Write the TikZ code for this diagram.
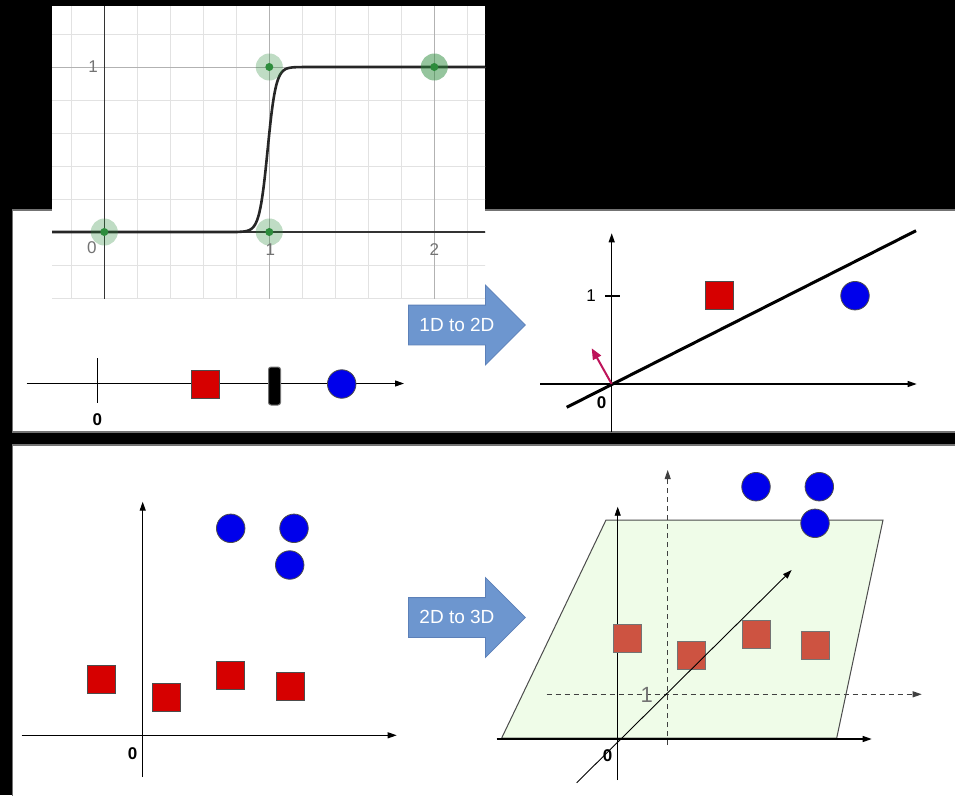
\documentclass[tikz,border=0pt]{standalone}
\usepackage{fontspec}
\setmainfont{Liberation Sans}
\usetikzlibrary{shapes.arrows, arrows.meta, positioning}

\definecolor{sqred}{RGB}{214,0,0}
\definecolor{dotblue}{RGB}{0,0,235}
\definecolor{planegreen}{RGB}{239,252,232}
\definecolor{sqredsoft}{RGB}{205,83,65}
\definecolor{arrowblue}{RGB}{109,150,207}
\definecolor{arrowedge}{RGB}{92,128,184}
\definecolor{normalpink}{RGB}{190,20,90}
\definecolor{gridgray}{RGB}{226,226,226}
\definecolor{gridmajor}{RGB}{178,178,178}
\definecolor{desmosgreen}{RGB}{45,140,60}

\begin{document}
\begin{tikzpicture}[
    x=1pt, y=-1pt,
    % Estilos
    panel/.style={fill=white, draw=black!55, line width=1.5pt},
    axis/.style={-{Triangle[length=9pt,width=6pt]}, line width=1.1pt},
    plain/.style={line width=1.1pt},
    dashaxis/.style={axis, dash pattern=on 5pt off 4pt, draw=black!75},
    redsq/.style={rectangle, draw=black!70, fill=sqred, minimum size=28pt, inner sep=0pt, line width=0.8pt},
    softsq/.style={redsq, fill=sqredsoft, draw=black!55},
    bluedot/.style={circle, draw=black!70, fill=dotblue, minimum size=28.5pt, inner sep=0pt, line width=0.8pt},
    divider/.style={rectangle, rounded corners=2.5pt, fill=black, draw=black!55, line width=1pt, minimum width=12pt, minimum height=38pt, inner sep=0pt},
    lbl/.style={font=\bfseries\fontsize{17}{20}\selectfont, inner sep=0pt},
    numlbl/.style={font=\fontsize{17}{20}\selectfont, inner sep=0pt},
    plotlbl/.style={text=black!55, font=\fontsize{17}{19}\selectfont, inner sep=0pt},
    blockarrow/.style={single arrow, draw=arrowedge, fill=arrowblue, text=white,
        font=\fontsize{19}{22}\selectfont, minimum height=117pt,
        single arrow head extend=20pt, text height=13pt, text depth=1pt,
        inner ysep=12.5pt, inner xsep=4pt, line width=0.8pt},
    sepline/.style={line width=3pt},
    normalarrow/.style={-{Triangle[length=11pt,width=9pt]}, line width=2pt, draw=normalpink}
  ]

  % Fondo y paneles
  \useasboundingbox (0,0) rectangle (955,795);
  \fill[black] (0,0) rectangle (955,795);
  \draw[panel] (12.7,210) rectangle (958,432);
  \draw[panel] (12.7,445) rectangle (958,800);

  % Grafica del escalon
  \begin{scope}
    \clip (52,6) rectangle (485,298);
    \fill[white] (52,6) rectangle (485,298);
    \begin{scope}[shift={(104.3,232)}, x=165pt, y=165pt]
      \draw[gridgray, line width=0.9pt, step=0.2] (-0.6,-0.6) grid (2.6,1.6);
      \draw[gridmajor, line width=1pt, step=1] (-1,-1) grid (3,2);
      \draw[black!80, line width=1.6pt] (-0.5,0) -- (2.5,0) (0,-0.6) -- (0,1.6);
      \draw[black!85, line width=2.6pt] (-0.5,0) -- (0.8,0) -- plot[domain=0.8:1.2, samples=80] (\x,{1/(1+exp(-40*(\x-0.99)))}) -- (1.2,1) -- (2.5,1);
      \foreach \px/\py/\op in {0/0/0.3, 1/0/0.3, 1/1/0.3, 2/1/0.5} {
        \fill[desmosgreen, opacity=\op] (\px,\py) circle[radius=13.5pt];
        \fill[desmosgreen] (\px,\py) circle[radius=4pt];
      }
      \node[plotlbl] (px0) at (-0.075,-0.097) {0};
      \node[plotlbl] (px1) at (1.006,-0.109) {1};
      \node[plotlbl] (px2) at (2.0,-0.109) {2};
      \node[plotlbl] (py1) at (-0.068,1.0) {1};
    \end{scope}
  \end{scope}

  % Recta 1D
  \coordinate (a1s) at (26.7,383.5);
  \coordinate (a1e) at (404,383.5);
  \coordinate (t1a) at (97.7,358);
  \coordinate (t1b) at (97.7,403);
  \draw[axis] (a1s) -- (a1e);
  \draw[plain] (t1a) -- (t1b);
  \node[lbl] (z1) at (97.3,420) {0};
  \node[redsq] (sq1) at (205.8,384.3) {};
  \node[divider] (sep1) at (274.5,386) {};
  \node[bluedot] (c1) at (341.7,384) {};

  % Flechas de bloque
  \node[blockarrow, anchor=tail] (up) at (408,325) {1D to 2D};
  \node[blockarrow, anchor=tail] (down) at (408,617.5) {2D to 3D};

  % Plano 2D
  \coordinate (x2s) at (540,384);
  \coordinate (x2e) at (916.7,384);
  \coordinate (y2s) at (611.7,431.7);
  \coordinate (y2e) at (611.7,233.3);
  \coordinate (o2) at (611.7,384);
  \coordinate (t2a) at (605,296);
  \coordinate (t2b) at (620,296);
  \coordinate (s2a) at (566.7,407.3);
  \coordinate (s2b) at (916,230.7);
  \coordinate (n2) at (591.7,348.3);
  \draw[axis] (x2s) -- (x2e);
  \draw[axis] (y2s) -- (y2e);
  \draw[plain] (t2a) -- (t2b);
  \node[numlbl] (one2) at (591,296) {1};
  \node[lbl] (z2) at (601.7,402.7) {0};
  \draw[sepline] (s2a) -- (s2b);
  \draw[normalarrow] (o2) -- (n2);
  \node[redsq] (sq2) at (719,295.7) {};
  \node[bluedot] (c2) at (855,295.7) {};

  % Plano 2D inferior
  \coordinate (x3s) at (21.7,735.3);
  \coordinate (x3e) at (396.7,735.3);
  \coordinate (y3s) at (142.7,777);
  \coordinate (y3e) at (142.7,501.7);
  \draw[axis] (x3s) -- (x3e);
  \draw[axis] (y3s) -- (y3e);
  \node[lbl] (z3) at (132.7,754) {0};
  \node[bluedot] (c3a) at (230.7,528.3) {};
  \node[bluedot] (c3b) at (294,528.3) {};
  \node[bluedot] (c3c) at (289.7,565) {};
  \node[redsq] (sq3a) at (101.7,679.7) {};
  \node[redsq] (sq3b) at (166.3,697) {};
  \node[redsq] (sq3c) at (230.7,675.7) {};
  \node[redsq] (sq3d) at (290,686.7) {};

  % Espacio 3D
  \filldraw[fill=planegreen, draw=black!70, line width=1pt]
    (501.7,738) -- (836.7,738) -- (883,520) -- (606,520) -- cycle;
  \coordinate (x4s) at (496.7,739);
  \coordinate (x4e) at (871.7,739);
  \coordinate (y4s) at (617.7,780);
  \coordinate (y4e) at (617.7,506.7);
  \coordinate (d4s) at (576.7,782.7);
  \coordinate (d4e) at (791.7,570);
  \coordinate (v4s) at (667.7,745);
  \coordinate (v4e) at (667.7,470);
  \coordinate (h4s) at (546.7,694.3);
  \coordinate (h4e) at (921.7,694.3);
  \draw[axis] (x4s) -- (x4e);
  \draw[axis, line width=0.9pt] (y4s) -- (y4e);
  \draw[dashaxis, line width=0.9pt] (v4s) -- (v4e);
  \draw[dashaxis, line width=0.9pt] (h4s) -- (h4e);
  \node[numlbl, text=black!55, font=\fontsize{22}{24}\selectfont] (one4) at (646.7,695) {1};
  \node[softsq] (sq4a) at (627.3,638) {};
  \node[softsq] (sq4b) at (691.7,655.7) {};
  \node[softsq] (sq4c) at (756.3,634.3) {};
  \node[softsq] (sq4d) at (815,645) {};
  \node[lbl] (z4) at (607.7,756) {0};
  \draw[axis, line width=0.9pt] (d4s) -- (d4e);
  \node[bluedot] (c4a) at (756,486.7) {};
  \node[bluedot] (c4b) at (819.3,486.7) {};
  \node[bluedot] (c4c) at (815,523.3) {};
\end{tikzpicture}
\end{document}
